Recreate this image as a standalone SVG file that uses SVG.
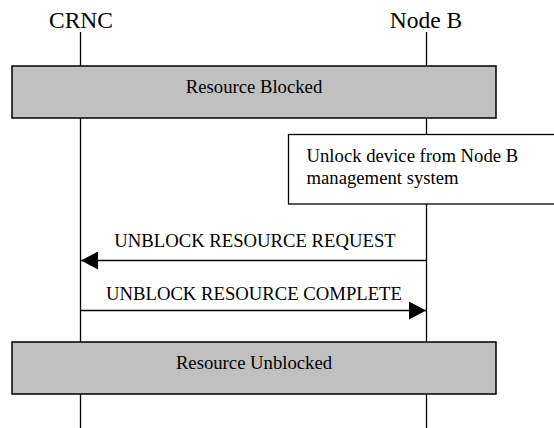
<svg xmlns="http://www.w3.org/2000/svg" width="554" height="428" viewBox="0 0 554 428">
<defs>
<style>
.t{font-family:"Liberation Serif","Times New Roman",serif;fill:#000}
.life{stroke:#000;stroke-width:1.3;fill:none}
.state{fill:#c0c0c0;stroke:#000;stroke-width:1.5}
.note{fill:#fff;stroke:#000;stroke-width:1.3}
.msg{stroke:#000;stroke-width:1.3;fill:none}
</style>
<marker id="ah" viewBox="0 0 17 18" refX="17" refY="9" markerWidth="17" markerHeight="18" markerUnits="userSpaceOnUse" orient="auto">
<path d="M0,0 L17,9 L0,18 Z" fill="#000"/>
</marker>
</defs>
<rect width="554" height="428" fill="#fff"/>
<g id="lifelines">
<line class="life" x1="80.5" y1="32" x2="80.5" y2="428"/>
<line class="life" x1="426.5" y1="32" x2="426.5" y2="428"/>
</g>
<g id="crnc"><text class="t" x="81" y="28" font-size="23.5" text-anchor="middle">CRNC</text></g>
<g id="nodeb"><text class="t" x="426" y="28" font-size="23.5" text-anchor="middle">Node B</text></g>
<g id="resource-blocked">
<rect class="state" x="12" y="66" width="484" height="52"/>
<text class="t" x="254" y="93" font-size="18.7" text-anchor="middle">Resource Blocked</text>
</g>
<g id="unlock-note">
<rect class="note" x="288.5" y="134.5" width="280" height="69.5"/>
<text class="t" x="306.5" y="162" font-size="18.7">Unlock device from Node B</text>
<text class="t" x="306.5" y="184" font-size="18.7">management system</text>
</g>
<g id="connectors">
<line class="msg" x1="426.5" y1="260.5" x2="81" y2="260.5" marker-end="url(#ah)"/>
<text class="t" x="255" y="247" font-size="18.7" text-anchor="middle">UNBLOCK RESOURCE REQUEST</text>
<line class="msg" x1="80.5" y1="310.5" x2="426" y2="310.5" marker-end="url(#ah)"/>
<text class="t" x="254" y="300" font-size="18.7" text-anchor="middle">UNBLOCK RESOURCE COMPLETE</text>
</g>
<g id="resource-unblocked">
<rect class="state" x="12" y="342" width="484" height="52"/>
<text class="t" x="254" y="369" font-size="18.7" text-anchor="middle">Resource Unblocked</text>
</g>
</svg>
